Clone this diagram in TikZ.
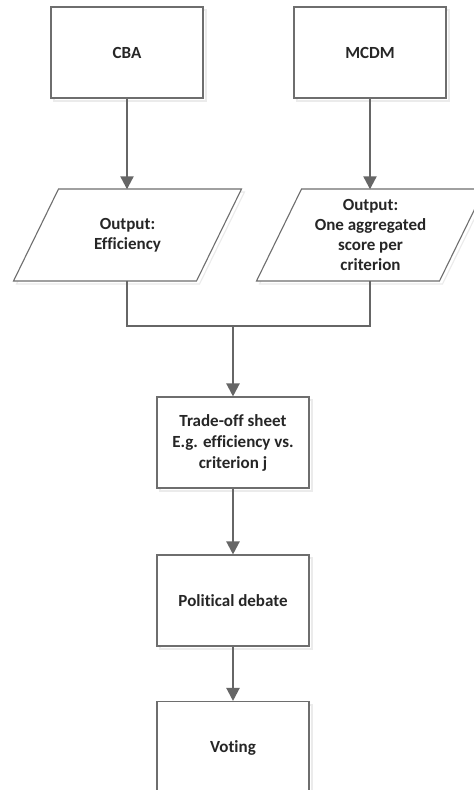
\documentclass[tikz,border=0pt]{standalone}
\usepackage{fontspec}
\setmainfont[Ligatures=NoCommon]{Carlito}
\usetikzlibrary{arrows.meta,calc}
\definecolor{boxline}{HTML}{6E6E6E}
\definecolor{arrline}{HTML}{666666}
\definecolor{txt}{HTML}{262626}
\definecolor{shadowc}{HTML}{EBEBEB}
\tikzset{
  box/.style={draw=boxline, line width=1.1pt, fill=white, minimum width=152pt, minimum height=91pt,
    inner sep=0pt, align=center, text=txt, font=\fontsize{17}{21}\selectfont\bfseries},
  ghost/.style={draw=none, minimum width=138pt, minimum height=91pt,
    inner sep=0pt, align=center, text=txt, font=\fontsize{17}{20}\selectfont\bfseries},
  para/.style={draw=boxline, line width=1.1pt, fill=white},
  shad/.style={draw=shadowc, line width=1.1pt},
  flow/.style={draw=arrline, line width=2.2pt, -{Triangle[width=13pt,length=13pt]}},
  link/.style={draw=arrline, line width=2.2pt}
}
\begin{document}
\begin{tikzpicture}[x=1pt,y=-1pt]
\useasboundingbox (0,0) rectangle (474,790);
\clip (0,0) rectangle (474,790);
\fill[white] (0,0) rectangle (474,790);
% shadows of boxes
\foreach \cx/\cy in {127/52.5,370/52.5,233/442.5,233/600.5,233/747.5}{
  \draw[shad] (\cx-76+3,\cy-45.5+3) rectangle (\cx+76+3,\cy+45.5+3);
}
\foreach \cx in {127.5,370.5}{
  \draw[shad] (\cx-69+3,192) -- (\cx+114+3,192) -- (\cx+69+3,284) -- (\cx-114+3,284) -- cycle;
}
% rectangles
\node[box] (cba) at (127,52.5) {CBA};
\node[box] (mcdm) at (370,52.5) {MCDM};
\node[box] (trade) at (233,442.5) {Trade-off sheet\\E.g. efficiency vs.\\criterion j};
\node[box] (debate) at (233,600.5) {Political debate};
\node[box, minimum height=92pt] (voting) at (233,747.5) {Voting};
% parallelograms
\draw[para] (127.5-69,189) -- (127.5+114,189) -- (127.5+69,281) -- (127.5-114,281) -- cycle;
\draw[para] (370.5-69,189) -- (370.5+114,189) -- (370.5+69,281) -- (370.5-114,281) -- cycle;
\node[ghost] (outa) at (127.5,235) {Output:\\Efficiency};
\node[ghost] (outb) at (370.5,235) {Output:\\One aggregated\\score per\\criterion};
\coordinate (ja) at (127,326);
\coordinate (jb) at (370,326);
\coordinate (jm) at (233,326);
% connectors
\draw[flow] (cba.south) -- (cba.south |- outa.north);
\draw[flow] (mcdm.south) -- (mcdm.south |- outb.north);
\draw[link] (cba.south |- outa.south) -- (ja) -- (jb) -- (mcdm.south |- outb.south);
\draw[flow] (jm) -- (trade.north);
\draw[flow] (trade.south) -- (debate.north);
\draw[flow] (debate.south) -- (voting.north);
\end{tikzpicture}
\end{document}
